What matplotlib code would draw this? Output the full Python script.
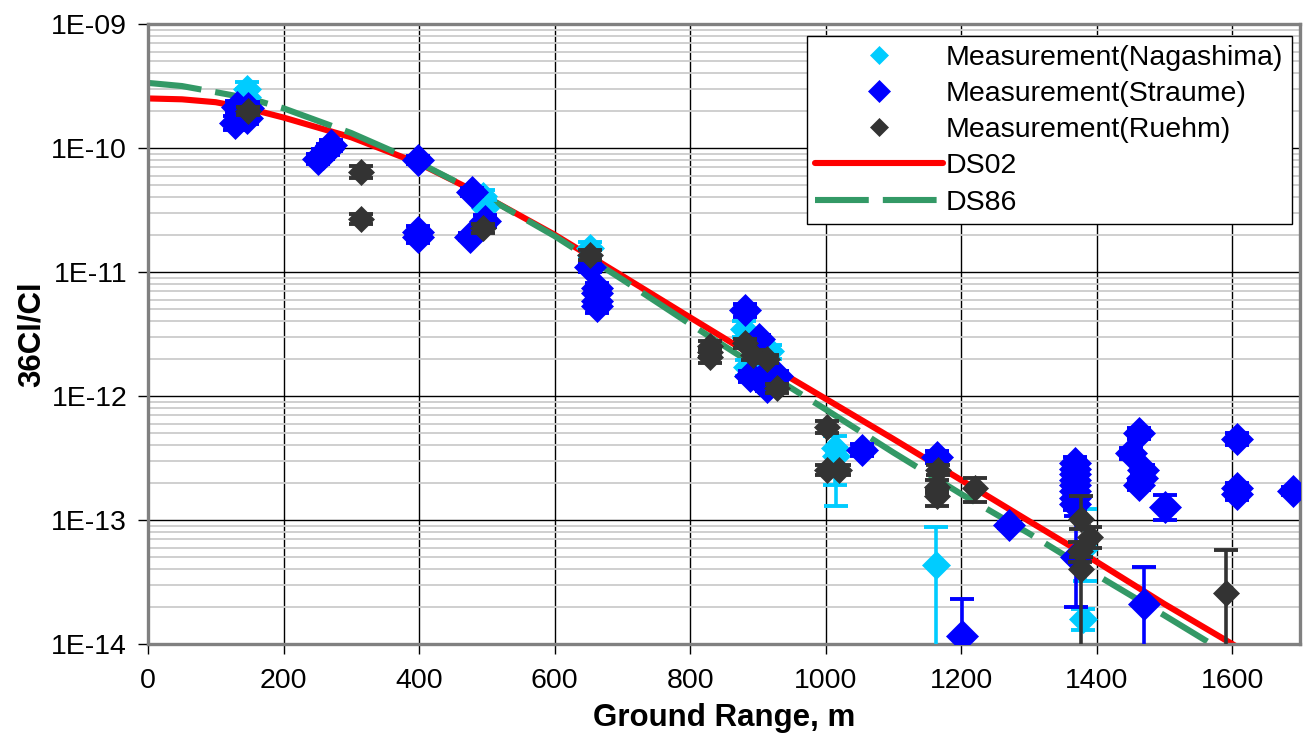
import matplotlib
matplotlib.use("Agg")
import matplotlib.pyplot as plt
from matplotlib.ticker import LogLocator, NullFormatter

plt.rcParams["font.family"] = ["Liberation Sans", "DejaVu Sans"]

# calculated curves
curve_x = [0, 50, 100, 150, 200, 300, 400, 500, 600, 700, 800, 900,
           1000, 1100, 1200, 1300, 1400, 1500, 1600, 1700]
ds02 = [2.51e-10, 2.47e-10, 2.34e-10, 2.07e-10, 1.76e-10, 1.22e-10, 7.5e-11,
        4.0e-11, 2.0e-11, 9.3e-12, 4.3e-12, 2.0e-12, 9.5e-13, 4.5e-13,
        2.1e-13, 9.8e-14, 4.6e-14, 2.1e-14, 1.0e-14, 4.7e-15]
ds86 = [3.35e-10, 3.16e-10, 2.82e-10, 2.51e-10, 2.09e-10, 1.32e-10, 7.6e-11,
        4.0e-11, 1.95e-11, 8.7e-12, 3.8e-12, 1.7e-12, 7.8e-13, 3.5e-13,
        1.62e-13, 7.8e-14, 3.6e-14, 1.7e-14, 7.9e-15, 3.7e-15]

# Nagashima
nag_x = [146, 146, 495, 497, 652, 879, 884, 918, 1014, 1016, 1163, 1382, 1380]
nag_y = [3.0e-10, 2.6e-10, 4.1e-11, 3.3e-11, 1.55e-11, 3.5e-12, 1.7e-12,
         2.3e-12, 3.8e-13, 3.3e-13, 4.3e-14, 6.0e-14, 1.6e-14]
nag_lo = [2.6e-10, 2.2e-10, 3.5e-11, 2.8e-11, 1.35e-11, 3.0e-12, 1.45e-12,
          2.0e-12, 1.9e-13, 1.3e-13, 1e-16, 3.2e-14, 1.3e-14]
nag_hi = [3.4e-10, 3.0e-10, 4.6e-11, 3.8e-11, 1.75e-11, 4.0e-12, 1.95e-12,
          2.6e-12, 4.8e-13, 3.8e-13, 8.7e-14, 1.23e-13, 1.9e-14]

# Straume
str_x = [128, 131, 146, 148, 251, 258, 265, 270, 399, 399, 399, 478, 475, 497,
         652, 663, 663, 663, 663, 881, 901, 889, 903, 913, 928, 1053, 1164,
         1201, 1270, 1368, 1368, 1368, 1368, 1368, 1368, 1368, 1368, 1370,
         1450, 1463, 1469, 1467, 1463, 1470, 1501, 1607, 1607, 1607, 1690]
str_y = [1.6e-10, 2.15e-10, 1.75e-10, 2.1e-10, 8.2e-11, 9.0e-11, 9.8e-11,
         1.05e-10, 8.0e-11, 2.1e-11, 1.9e-11, 4.45e-11, 1.93e-11, 2.6e-11,
         1.1e-11, 7.4e-12, 6.8e-12, 5.8e-12, 5.3e-12, 4.9e-12, 2.9e-12,
         1.44e-12, 1.35e-12, 1.19e-12, 1.44e-12, 3.67e-13, 3.24e-13,
         1.15e-14, 9.1e-14, 2.9e-13, 2.6e-13, 2.35e-13, 2.1e-13, 1.9e-13,
         1.7e-13, 1.5e-13, 1.35e-13, 5.0e-14,
         3.45e-13, 5.0e-13, 2.53e-13, 2.2e-13, 1.91e-13, 2.1e-14, 1.28e-13,
         4.47e-13, 1.8e-13, 1.62e-13, 1.72e-13]
str_lo = [1.4e-10, 1.9e-10, 1.55e-10, 1.85e-10, 7.4e-11, 8.1e-11, 8.8e-11,
          9.5e-11, 7.4e-11, 1.85e-11, 1.7e-11, 4.1e-11, 1.8e-11, 2.3e-11,
          1.0e-11, 6.6e-12, 6.0e-12, 5.2e-12, 4.7e-12, 4.3e-12, 2.7e-12,
          1.3e-12, 1.25e-12, 1.1e-12, 1.3e-12, 3.3e-13, 2.9e-13,
          1e-16, 8.6e-14, 2.6e-13, 2.3e-13, 2.1e-13, 1.9e-13, 1.7e-13,
          1.5e-13, 1.35e-13, 1.2e-13, 2.0e-14,
          3.1e-13, 4.5e-13, 2.3e-13, 2.0e-13, 1.75e-13, 1e-16, 1.0e-13,
          4.0e-13, 1.6e-13, 1.45e-13, 1.6e-13]
str_hi = [1.8e-10, 2.4e-10, 1.95e-10, 2.35e-10, 9.0e-11, 9.9e-11, 1.08e-10,
          1.15e-10, 8.6e-11, 2.35e-11, 2.1e-11, 4.8e-11, 2.05e-11, 2.9e-11,
          1.2e-11, 8.2e-12, 7.6e-12, 6.4e-12, 5.9e-12, 5.5e-12, 3.1e-12,
          1.6e-12, 1.45e-12, 1.3e-12, 1.6e-12, 4.1e-13, 3.6e-13,
          2.3e-14, 9.6e-14, 3.2e-13, 2.9e-13, 2.6e-13, 2.3e-13, 2.1e-13,
          1.9e-13, 1.65e-13, 1.5e-13, 1.07e-13,
          3.8e-13, 5.5e-13, 2.8e-13, 2.4e-13, 2.1e-13, 4.2e-14, 1.58e-13,
          5.0e-13, 2.0e-13, 1.8e-13, 1.85e-13]

# Ruehm
rue_x = [148, 315, 315, 495, 652, 830, 830, 830, 881, 893, 913, 928, 1002,
         1002, 1019, 1166, 1164, 1164, 1221, 1377, 1390, 1376, 1377, 1591]
rue_y = [2.0e-10, 6.45e-11, 2.7e-11, 2.25e-11, 1.37e-11, 2.55e-12, 2.25e-12,
         2.05e-12, 2.66e-12, 2.14e-12, 2.0e-12, 1.15e-12, 5.65e-13, 2.53e-13,
         2.53e-13, 2.53e-13, 1.86e-13, 1.55e-13, 1.8e-13, 1.02e-13, 7.3e-14,
         5.6e-14, 4.0e-14, 2.6e-14]
rue_lo = [1.85e-10, 5.7e-11, 2.45e-11, 2.05e-11, 1.25e-11, 2.3e-12, 2.05e-12,
          1.85e-12, 2.45e-12, 1.95e-12, 1.85e-12, 1.05e-12, 5.0e-13, 2.3e-13,
          2.3e-13, 2.3e-13, 1.65e-13, 1.3e-13, 1.4e-13, 8.5e-14, 6.0e-14,
          4.6e-14, 1e-16, 1e-16]
rue_hi = [2.15e-10, 7.2e-11, 2.95e-11, 2.45e-11, 1.5e-11, 2.8e-12, 2.45e-12,
          2.25e-12, 2.9e-12, 2.35e-12, 2.15e-12, 1.25e-12, 6.3e-13, 2.8e-13,
          2.8e-13, 2.8e-13, 2.1e-13, 1.75e-13, 2.2e-13, 1.55e-13, 8.8e-14,
          6.6e-14, 5.0e-14, 5.7e-14]

ytick_vals = [1e-14, 1e-13, 1e-12, 1e-11, 1e-10, 1e-9]
ytick_labels = ["1E-14", "1E-13", "1E-12", "1E-11", "1E-10", "1E-09"]

fig = plt.figure(figsize=(13.14, 7.39), dpi=100)
ax = fig.add_axes([148 / 1314, 1 - 644 / 739, 1152 / 1314, 620 / 739])

ax.plot(curve_x, ds02, color="#FF0000", linewidth=4.4,
        solid_capstyle="round", zorder=2, label="DS02")
ax.plot(curve_x, ds86, color="#339966", linewidth=4.4,
        linestyle=(0, (8.8, 2.3)), zorder=2.1, label="DS86")

series = [
    ("Measurement(Nagashima)", "#00CCFF", 14, nag_x, nag_y, nag_lo, nag_hi, 3),
    ("Measurement(Straume)", "#0000FF", 16.5, str_x, str_y, str_lo, str_hi, 4),
    ("Measurement(Ruehm)", "#333333", 13.5, rue_x, rue_y, rue_lo, rue_hi, 5),
]
marker_handles = []
for name, col, ms, xs, ys, lo, hi, z in series:
    yerr = [[y - l for y, l in zip(ys, lo)], [h - y for y, h in zip(ys, hi)]]
    ax.errorbar(xs, ys, yerr=yerr, fmt="none", ecolor=col, elinewidth=2.6,
                capsize=8.3, capthick=2.8, zorder=z)
    h, = ax.plot(xs, ys, "D", color=col, markersize=ms, markeredgecolor=col,
                 markeredgewidth=0.5, linestyle="none", zorder=z + 0.5,
                 label=name)
    marker_handles.append(h)

ax.set_yscale("log")
ax.set_xlim(0, 1700)
ax.set_ylim(1e-14, 1e-9)
ax.set_xticks(range(0, 1601, 200))
ax.set_yticks(ytick_vals, labels=ytick_labels)
ax.yaxis.set_minor_locator(LogLocator(base=10, subs=range(2, 10), numticks=20))
ax.yaxis.set_minor_formatter(NullFormatter())

ax.grid(which="minor", axis="y", color="#CCCCCC", linewidth=1.3, zorder=0)
ax.grid(which="major", axis="both", color="black", linewidth=1.0, zorder=0)
ax.set_axisbelow(True)

for sp in ax.spines.values():
    sp.set_color("#808080")
    sp.set_linewidth(2.4)

ax.tick_params(axis="both", which="major", direction="out", length=7,
               width=1, color="black", labelsize=20.5)
ax.tick_params(axis="x", pad=10)
ax.tick_params(axis="y", pad=8)
ax.tick_params(axis="y", which="minor", length=0)

ax.set_xlabel("Ground Range, m", fontsize=22.5, fontweight="bold", labelpad=7)
ax.set_ylabel("36Cl/Cl", fontsize=22.5, fontweight="bold", labelpad=3)

lines = ax.get_lines()
handles = marker_handles + [lines[0], lines[1]]
leg = ax.legend(handles=handles, loc="upper right",
                bbox_to_anchor=(1292 / 1314, 1 - 36 / 739),
                bbox_transform=fig.transFigure, borderaxespad=0,
                fontsize=20.5, markerscale=0.68, handlelength=4.5,
                handletextpad=0.1, labelspacing=0.36, borderpad=0.3,
                fancybox=False, framealpha=1, edgecolor="black")
leg.get_frame().set_linewidth(1.0)

fig.savefig("out.png", dpi=100)
